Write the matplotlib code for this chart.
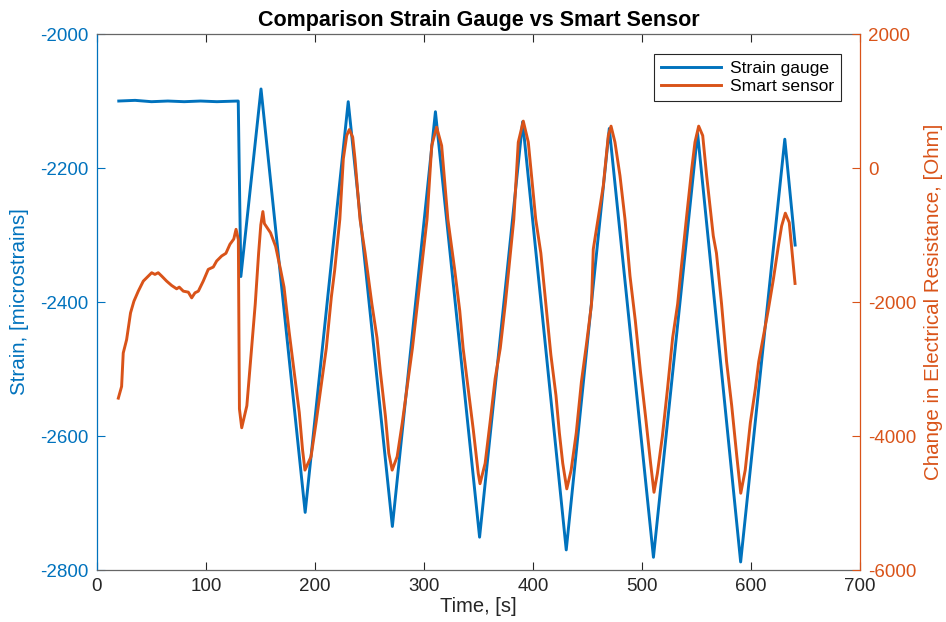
"""Comparison chart: strain gauge vs smart sensor (dual y axes)."""

import matplotlib
matplotlib.use("Agg")
import matplotlib.pyplot as plt

plt.rcParams["font.family"] = ["Liberation Sans", "DejaVu Sans"]
plt.rcParams["axes.unicode_minus"] = False

BLUE = "#0072BD"
ORANGE = "#D95319"
DARK = "#262626"

# Strain gauge, microstrains (left axis)
strain_time = [20, 35, 50, 65, 80, 95, 110, 129.6, 132, 150.5, 191, 230.5, 271,
               310.5, 351, 390.5, 430.5, 470, 510.5, 551, 590.5, 631, 640.5]
strain_value = [-2100, -2099, -2101, -2100, -2101, -2100, -2101, -2100, -2362,
                -2082, -2714, -2101, -2735, -2116, -2751, -2131, -2770, -2141,
                -2781, -2148, -2788, -2157, -2315]

# Smart sensor, change in resistance in Ohm (right axis)
sensor_time = [
    19.6, 22.6, 24.1, 27.2, 30.8, 33.9, 37.9, 42.5, 47.1, 50.2, 53.2, 56.2,
    59.4, 63.9, 68.5, 73.1, 75.5, 79.2, 83.8, 86.9, 89.9, 93.0, 97.5, 102.1,
    106.7, 109.8, 114.4, 118.3, 122.0, 125.5, 127.6, 129.7, 130.7, 132.8,
    137.5, 140.6, 145.2, 148.3, 150.3, 152.2, 153.6, 159.2, 163.9, 168.5,
    171.6, 176.2, 180.9, 185.6, 188.6, 190.8, 196.4, 201.0, 205.7, 210.4,
    215.0, 218.1, 222.8, 226.0, 229.1, 231.5, 234.6, 236.7, 241.3, 246.0,
    252.2, 256.9, 260.0, 264.6, 267.7, 270.8, 275.4, 280.1, 284.8, 289.4,
    294.0, 298.7, 302.8, 307.1, 311.6, 316.2, 321.9, 328.2, 332.8, 335.9,
    340.6, 345.2, 349.8, 351.4, 356.1, 360.6, 365.3, 370.0, 374.6, 379.3,
    382.4, 386.5, 391.1, 395.7, 402.5, 407.2, 411.8, 416.4, 421.1, 424.2,
    427.3, 431.0, 435.0, 439.7, 444.4, 449.0, 453.7, 455.3, 464.5, 469.1,
    471.6, 475.2, 479.8, 484.4, 489.0, 493.9, 498.6, 503.2, 507.9, 511.0,
    514.1, 518.7, 523.4, 528.1, 532.7, 535.8, 541.0, 545.6, 548.6, 552.0,
    555.7, 559.3, 565.4, 568.3, 573.0, 577.6, 582.3, 587.0, 590.6, 594.7,
    599.4, 604.0, 607.1, 615.9, 620.5, 625.1, 628.1, 631.5, 635.1, 640.4,
]
sensor_value = [
    -3435, -3261, -2761, -2562, -2162, -1988, -1838, -1688, -1613, -1563, -1588, -1563,
    -1613, -1688, -1753, -1803, -1778, -1838, -1853, -1938, -1863, -1838, -1688, -1513,
    -1478, -1388, -1313, -1273, -1138, -1060, -915, -1068, -3596, -3877,
    -3548, -2941, -2030, -1270, -850, -650, -830, -966, -1169, -1523,
    -1777, -2434, -3042, -3650, -4206, -4509, -4307, -3801, -3243, -2688,
    -1928, -1523, -764, 135, 484, 574, 460, 135, -764, -1270,
    -2030, -2535, -3042, -3701, -4256, -4509, -4307, -3801, -3243, -2688,
    -2030, -1371, -764, 334, 610, 334, -764, -1523, -2130, -2688,
    -3296, -3903, -4560, -4712, -4408, -3801, -3143, -2688, -2030, -1270,
    -764, 385, 700, 385, -764, -1270, -2030, -2789, -3397, -3953,
    -4408, -4789, -4509, -3953, -3194, -2637, -2030, -1213, -265, 484,
    625, 385, -115, -764, -1613, -2283, -3042, -3701, -4408, -4840,
    -4560, -4003, -3296, -2535, -2030, -1523, -714, -15, 385, 625,
    484, -115, -1014, -1270, -2030, -2890, -3548, -4307, -4854, -4509,
    -3801, -3295, -2890, -2112, -1663, -1164, -865, -674, -814, -1723,
]

fig = plt.figure(figsize=(9.46, 6.22), dpi=100)
ax1 = fig.add_axes([0.1025, 0.0836, 0.8066, 0.8617])
ax2 = ax1.twinx()

line1, = ax1.plot(strain_time, strain_value, color=BLUE, lw=2.1, label="Strain gauge")
line2, = ax2.plot(sensor_time, sensor_value, color=ORANGE, lw=2.1, label="Smart sensor")

ax1.set_xlim(0, 700)
ax1.set_xticks(range(0, 701, 100))
ax1.set_ylim(-2800, -2000)
ax1.set_yticks(range(-2800, -1999, 200))
ax2.set_ylim(-6000, 2000)
ax2.set_yticks(range(-6000, 2001, 2000))

ax1.tick_params(axis="x", direction="in", top=True, length=5.5, width=0.8,
                colors=DARK, labelsize=13.5, pad=6)
ax1.tick_params(axis="y", direction="in", length=5.5, width=0.8,
                colors=BLUE, labelsize=13.5, pad=6)
ax2.tick_params(axis="y", direction="in", length=5.5, width=0.8,
                colors=ORANGE, labelsize=13.5, pad=6)

for name in ("top", "bottom"):
    ax1.spines[name].set_color("#666666")
    ax1.spines[name].set_linewidth(0.9)
ax1.spines["left"].set_color(BLUE)
ax1.spines["left"].set_linewidth(0.9)
ax1.spines["right"].set_visible(False)
for name in ("top", "bottom", "left"):
    ax2.spines[name].set_visible(False)
ax2.spines["right"].set_color(ORANGE)
ax2.spines["right"].set_linewidth(0.9)

ax1.set_xlabel("Time, [s]", fontsize=14.5, color=DARK, labelpad=1)
ax1.set_ylabel("Strain, [microstrains]", fontsize=14.8, color=BLUE, labelpad=8)
ax2.set_ylabel("Change in Electrical Resistance, [Ohm]", fontsize=14.8,
               color=ORANGE, labelpad=5)
ax1.set_title("Comparison Strain Gauge vs Smart Sensor", fontsize=15.5,
              fontweight="bold", color="black", pad=6)

leg = ax2.legend(handles=[line1, line2], loc="upper right",
                 bbox_to_anchor=(0.975, 0.963), borderaxespad=0,
                 fontsize=12.6, fancybox=False, framealpha=1,
                 edgecolor=DARK, borderpad=0.4, labelspacing=0.15,
                 handlelength=3.4, handletextpad=0.5)
leg.get_frame().set_linewidth(0.8)

plt.savefig("out.png", dpi=100)
plt.close()
